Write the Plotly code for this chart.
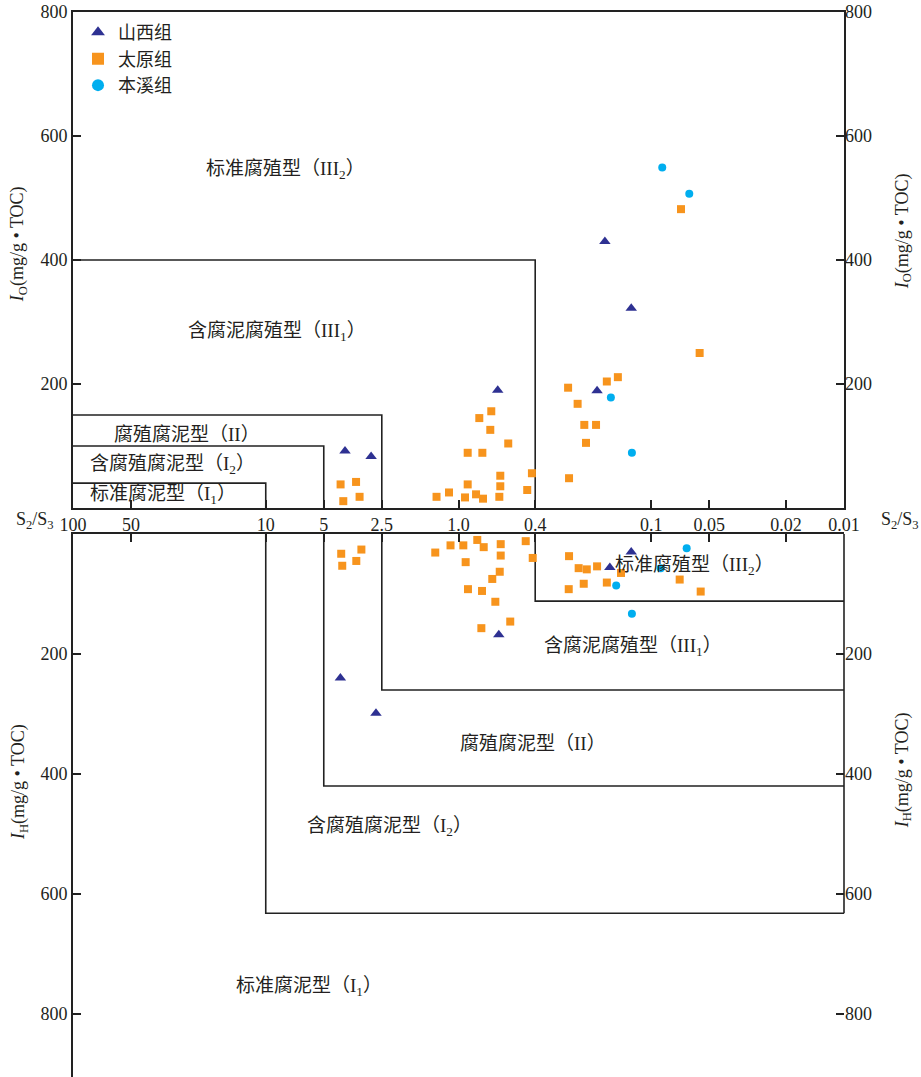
import numpy as np
import plotly.graph_objects as go

# ---------------- data ----------------
# Upper panel: S2/S3 vs oxygen index IO (mg/g TOC)
sx_io_ratio = [3.88, 2.84, 0.626, 0.174, 0.127, 0.191]
sx_io = [92, 83, 190, 430, 322, 189]

ty_io_ratio = [4.09, 3.40, 3.96, 3.26, 1.30, 1.12, 0.925, 0.811, 0.746, 0.896,
               0.614, 0.607, 0.607, 0.440, 0.416, 0.896, 0.752, 0.552, 0.684, 0.780,
               0.676, 0.0701, 0.0561, 0.149, 0.170, 0.270, 0.241, 0.2225, 0.1934, 0.218,
               0.267]
ty_io = [38, 42, 11, 18, 18, 25, 17, 22, 15, 38,
         18, 35, 52, 29, 56, 89, 89, 104, 126, 145,
         156, 482, 250, 211, 204, 194, 168, 134, 134, 105,
         48]

bx_io_ratio = [0.0877, 0.0635, 0.162, 0.126]
bx_io = [549, 507, 178, 89]

# Lower panel: S2/S3 vs hydrogen index IH (mg/g TOC)
sx_ih_ratio = [0.618, 0.127, 0.164, 4.10, 2.68]
sx_ih = [168, 30, 56, 240, 299]

ty_ih_ratio = [4.06, 3.19, 3.39, 4.01, 1.32, 1.10, 0.944, 0.799, 0.740, 0.604,
               0.604, 0.918, 0.448, 0.412, 0.611, 0.668, 0.893, 0.755, 0.644, 0.539,
               0.761, 0.267, 0.238, 0.216, 0.191, 0.1435, 0.224, 0.170, 0.268, 0.0712,
               0.0554]
ty_ih = [33, 26, 45, 53, 31, 19, 19, 10, 22, 17,
         36, 47, 12, 40, 63, 75, 92, 95, 113, 146,
         157, 37, 57, 59, 54, 65, 83, 81, 92, 76,
         96]

bx_ih_ratio = [0.0655, 0.0893, 0.152, 0.126]
bx_ih = [24, 57, 86, 133]

# Axis ticks
x_ticks = [100, 50, 10, 5, 2.5, 1.0, 0.4, 0.1, 0.05, 0.02, 0.01]
x_ticktext = ["100", "50", "10", "5", "2.5", "1.0", "0.4", "0.1", "0.05", "0.02", "0.01"]
y_ticks = [200, 400, 600, 800]

# Kerogen-type boundaries (S2/S3 limit, index limit)
io_bounds_ratio = [0.4, 2.5, 5, 10]
io_bounds_val = [400, 150, 100, 40]
ih_bounds_ratio = [0.4, 2.5, 5, 10]
ih_bounds_val = [112, 260, 420, 632]

# Region labels: (text, S2/S3, index)
io_labels = [
    ("标准腐殖型（III<sub>2</sub>）", 7.94, 545),
    ("含腐泥腐殖型（III<sub>1</sub>）", 8.74, 284),
    ("腐殖腐泥型（II）", 25.6, 118),
    ("含腐殖腐泥型（I<sub>2</sub>）", 30.3, 69),
    ("标准腐泥型（I<sub>1</sub>）", 34.1, 21),
]
ih_labels = [
    ("标准腐殖型（III<sub>2</sub>）", 0.0593, 53),
    ("含腐泥腐殖型（III<sub>1</sub>）", 0.1244, 188),
    ("腐殖腐泥型（II）", 0.411, 350),
    ("含腐殖腐泥型（I<sub>2</sub>）", 2.29, 488),
    ("标准腐泥型（I<sub>1</sub>）", 5.97, 755),
]

# ---------------- style ----------------
FONT = "Liberation Serif, Noto Sans CJK SC, serif"
TXT = "#231f20"
LINE = "#222222"
C_SX = "#2e3192"
C_TY = "#f7941d"
C_BX = "#00aeef"
X_MIN, X_MAX = 0.01, 100
IH_MAX = 905

fig = go.Figure()

# boundary lines
for r, v in zip(io_bounds_ratio, io_bounds_val):
    fig.add_trace(go.Scatter(x=[X_MAX, r, r], y=[v, v, 0], mode="lines",
                             line=dict(color=LINE, width=1.6), hoverinfo="skip",
                             showlegend=False, xaxis="x", yaxis="y"))
for r, v in zip(ih_bounds_ratio, ih_bounds_val):
    fig.add_trace(go.Scatter(x=[r, r, X_MIN], y=[0, v, v], mode="lines",
                             line=dict(color=LINE, width=1.6), hoverinfo="skip",
                             showlegend=False, xaxis="x2", yaxis="y2"))


def add_points(x, y, name, symbol, color, size, xa, ya, show):
    fig.add_trace(go.Scatter(
        x=x, y=y, mode="markers", name=name, legendgroup=name, showlegend=show,
        marker=dict(symbol=symbol, color=color, size=size, line=dict(width=0)),
        xaxis=xa, yaxis=ya, cliponaxis=False))


add_points(sx_io_ratio, sx_io, "山西组", "triangle-up", C_SX, 10, "x", "y", True)
add_points(ty_io_ratio, ty_io, "太原组", "square", C_TY, 8, "x", "y", True)
add_points(bx_io_ratio, bx_io, "本溪组", "circle", C_BX, 8, "x", "y", True)
add_points(sx_ih_ratio, sx_ih, "山西组", "triangle-up", C_SX, 10, "x2", "y2", False)
add_points(ty_ih_ratio, ty_ih, "太原组", "square", C_TY, 8, "x2", "y2", False)
add_points(bx_ih_ratio, bx_ih, "本溪组", "circle", C_BX, 8, "x2", "y2", False)

# placeholders so the right-hand axes are drawn
fig.add_trace(go.Scatter(x=[], y=[], xaxis="x", yaxis="y3", showlegend=False))
fig.add_trace(go.Scatter(x=[], y=[], xaxis="x2", yaxis="y4", showlegend=False))

tick_common = dict(ticks="inside", ticklen=8, tickwidth=1.5, tickcolor=LINE,
                   showgrid=False, zeroline=False, automargin=False,
                   tickfont=dict(family=FONT, size=18, color=TXT))

fig.update_layout(
    width=921, height=1077, template="none",
    margin=dict(l=73, r=77, t=12, b=0, autoexpand=False),
    paper_bgcolor="white", plot_bgcolor="white",
    font=dict(family=FONT, size=18, color=TXT),
    legend=dict(x=0.0065, y=0.998, xanchor="left", yanchor="top",
                bgcolor="rgba(0,0,0,0)", font=dict(family=FONT, size=18, color=TXT),
                itemsizing="constant", tracegroupgap=0),
    xaxis=dict(type="log", range=[np.log10(X_MAX), np.log10(X_MIN)], domain=[0, 1],
               anchor="y", tickvals=x_ticks, ticktext=x_ticktext, showline=True,
               linecolor=LINE, linewidth=1.6, mirror=True, ticklabelstandoff=0,
               **tick_common),
    xaxis2=dict(type="log", matches="x", anchor="y2", side="top", tickvals=x_ticks,
                showticklabels=False, showline=True, linecolor=LINE, linewidth=1.6,
                mirror=False, **tick_common),
    yaxis=dict(domain=[0.5343, 1], range=[0, 800], anchor="x", tickvals=y_ticks,
               showline=True, linecolor=LINE, linewidth=1.6, mirror=True,
               **tick_common),
    yaxis2=dict(domain=[0, 0.5099], range=[IH_MAX, 0], anchor="x2", tickvals=y_ticks,
                showline=True, linecolor=LINE, linewidth=1.6, mirror=False,
                **tick_common),
    yaxis3=dict(overlaying="y", side="right", anchor="x", range=[0, 800],
                tickvals=y_ticks, showline=False, **tick_common),
    yaxis4=dict(overlaying="y2", side="right", anchor="x2", range=[IH_MAX, 0],
                tickvals=y_ticks, showline=False, **tick_common),
)

# right-hand frame of the lower panel, down to the I2 boundary
fig.add_shape(type="line", xref="paper", yref="y2", x0=1, x1=1, y0=0,
              y1=ih_bounds_val[-1], line=dict(color=LINE, width=1.6))

# region labels
for text, r, v in io_labels:
    fig.add_annotation(x=np.log10(r), y=v, xref="x", yref="y", text=text,
                       showarrow=False, font=dict(family=FONT, size=19, color=TXT))
for text, r, v in ih_labels:
    fig.add_annotation(x=np.log10(r), y=v, xref="x2", yref="y2", text=text,
                       showarrow=False, font=dict(family=FONT, size=19, color=TXT))

# axis titles
io_title = "<i>I</i><sub>O</sub>(mg/g • TOC)"
ih_title = "<i>I</i><sub>H</sub>(mg/g • TOC)"
for text, x, y in [(io_title, -0.0713, 0.782), (io_title, 1.0765, 0.794),
                   (ih_title, -0.0687, 0.277), (ih_title, 1.0765, 0.288)]:
    fig.add_annotation(x=x, y=y, xref="paper", yref="paper", text=text,
                       textangle=-90, showarrow=False, xanchor="center",
                       yanchor="middle", font=dict(family=FONT, size=18, color=TXT))

for x in (-0.049, 1.0726):
    fig.add_annotation(x=x, y=0.523, xref="paper", yref="paper",
                       text="S<sub>2</sub>/S<sub>3</sub>", showarrow=False,
                       xanchor="center", yanchor="middle",
                       font=dict(family=FONT, size=18, color=TXT))

fig.write_html("out.html")
